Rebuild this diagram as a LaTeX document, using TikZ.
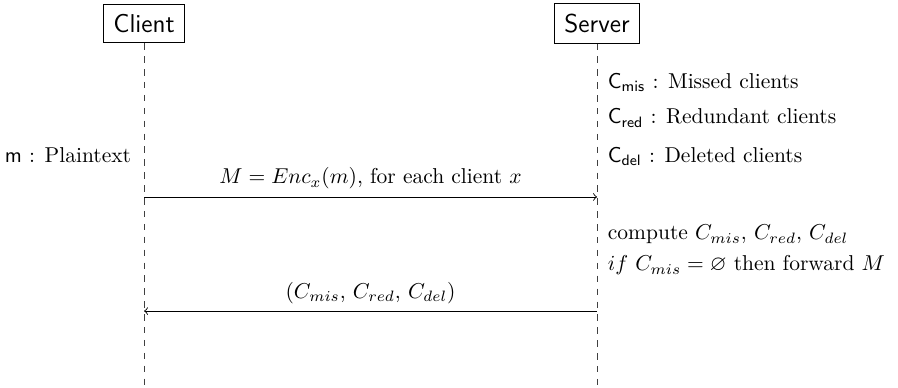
\documentclass[tikz,border=0pt]{standalone}
\usepackage{amssymb}
\usepackage{amsmath}
\usepackage{tikz}
\usetikzlibrary{arrows,positioning,calc}

\begin{document}
\begin{tikzpicture}
[->,semithick,
party/.style={rectangle,draw,thin,inner sep=4.7pt,font=\large\sffamily},
lifeline/.style={-,thin,dashed,black!75},
msg/.style={->,thin},
note/.style={anchor=base west},
leftnote/.style={anchor=base east}]
\useasboundingbox (0,0) rectangle (14.68,-6.33);

\node (client) at (2.355,-0.384) [party] {Client};
\node (server) at (9.76,-0.384) [party] {Server};

\coordinate (cend) at (2.355,-6.33);
\coordinate (send) at (9.76,-6.33);
\coordinate (c1) at (2.355,-3.22);
\coordinate (s1) at (9.76,-3.22);
\coordinate (c2) at (2.355,-5.085);
\coordinate (s2) at (9.76,-5.085);

\draw[lifeline] (client) -- (cend);
\draw[lifeline] (server) -- (send);

\node (plain) at (2.27,-2.65) [leftnote] {$\mathsf{m}$ : Plaintext};
\node (mis) at (9.81,-1.439) [note] {$\mathsf{C}_{\mathsf{mis}}$ : Missed clients};
\node (red) at (9.81,-2.027) [note] {$\mathsf{C}_{\mathsf{red}}$ : Redundant clients};
\node (del) at (9.81,-2.65) [note] {$\mathsf{C}_{\mathsf{del}}$ : Deleted clients};
\node (comp) at (9.81,-3.92) [note] {compute $C_{mis}$, $C_{red}$, $C_{del}$};
\node (fwd) at (9.81,-4.43) [note] {$if$ $C_{mis} = \varnothing$ then forward $M$};

\draw[msg] (c1) -- node[above] {$M = Enc_x(m)$, for each client $x$} (s1);
\draw[msg] (s2) -- node[above] {$(C_{mis}$, $C_{red}$, $C_{del})$} (c2);

\end{tikzpicture}
\end{document}
